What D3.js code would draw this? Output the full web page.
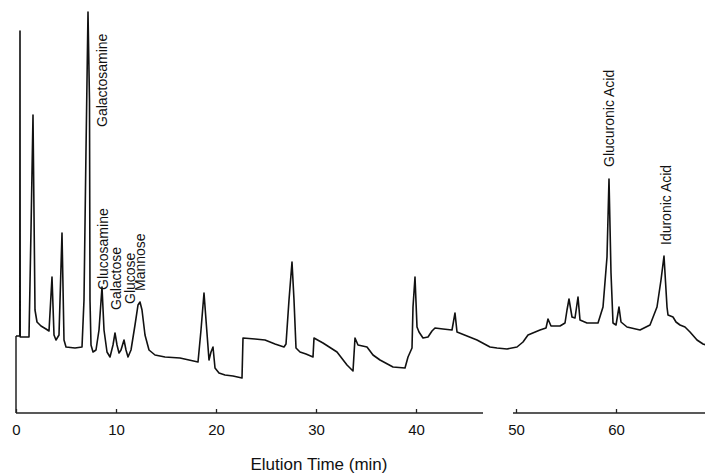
<!DOCTYPE html>
<html>
<head>
<meta charset="utf-8">
<script src="https://cdn.jsdelivr.net/npm/d3@7"></script>
<style>
  body { margin: 0; background: #fff; }
  svg { display: block; }
  text { font-family: "Liberation Sans", Arial, sans-serif; fill: #111; }
</style>
</head>
<body>
<div id="chart"></div>
<script>
// elution time (min) and detector response (arbitrary units)
var times = [0, 0.38, 0.4, 0.42, 1.3, 1.5, 1.7, 1.9, 2.1, 2.5, 3.0, 3.3, 3.6, 3.8, 4.0, 4.3, 4.6, 4.8, 5.0, 5.9, 6.6,
  6.8, 7.0, 7.2, 7.35, 7.4, 7.5, 7.7, 8.0, 8.3, 8.6, 8.8, 9.1, 9.4, 9.7, 9.9, 10.1, 10.3, 10.5, 10.8, 11.0,
  11.2, 11.5, 11.9, 12.2, 12.4, 12.6, 12.9, 13.3, 13.9, 14.9, 16.4, 18.2, 18.5, 18.8, 19.0, 19.3, 19.5, 19.7, 19.9, 20.3,
  20.9, 21.7, 22.6, 22.7, 23.9, 24.9, 25.9, 26.8, 27.0, 27.3, 27.6, 27.8, 28.0, 28.4, 29.0, 29.7, 29.8, 30.7, 32.1, 33.1,
  33.7, 33.9, 34.2, 35.1, 35.7, 36.4, 37.7, 38.9, 39.2, 39.6, 39.7, 39.9, 40.1, 40.3, 40.7, 41.2, 41.6, 41.9, 42.7, 43.6,
  43.9, 44.1, 45.1, 46.1, 47.4, 48.1, 49.1, 50.1, 50.7, 51.2, 52.4, 53.0, 53.2, 53.5, 54.4, 54.9, 55.1, 55.3, 55.6, 55.9,
  56.2, 56.4, 57.1, 58.2, 58.7, 59.1, 59.3, 59.5, 59.7, 60.0, 60.3, 60.5, 61.1, 62.4, 63.4, 64.1, 64.5, 64.8, 65.1, 65.2,
  65.7, 66.0, 66.4, 66.9, 67.4, 68.1, 68.7, 69.0];
var signal = [19.25, 19.25, 95.5, 19, 19, 45.75, 74.5, 25.75, 22.75, 21.75, 21, 20.5, 34, 19.5, 18.25, 19.5, 45, 18.25, 16.5, 16.25, 16.5,
  28.25, 65.75, 100.25, 78, 28.25, 17, 15.25, 15.75, 20.75, 31.5, 20.75, 15.25, 14, 17, 20, 17, 15, 15.75, 18.25, 15.75,
  14, 15.75, 22, 27, 27.75, 25.75, 19.5, 15.75, 14.5, 14, 13.75, 12.75, 20.75, 30, 23.25, 13.25, 15.25, 16.5, 11.25, 10,
  9.5, 9.25, 8.75, 18.75, 18.5, 18.25, 17.25, 16.5, 17.25, 28.25, 37.75, 28.25, 16.25, 15.25, 14.75, 14, 18.75, 17.5, 15.25, 12,
  10.5, 18.75, 17, 16.5, 14.5, 13.25, 11.5, 11.25, 14, 16.25, 26.5, 34, 21.5, 20.25, 18.75, 19, 20.5, 21.25, 21, 20.75,
  25, 20.25, 19.25, 18.25, 16.5, 16.25, 16, 16.5, 17.75, 19.5, 20.75, 21.25, 23.5, 21.75, 21.75, 22.5, 25.75, 28.5, 24, 23.75,
  29, 23.25, 22.5, 22.5, 26.5, 39, 58.5, 35, 22.5, 22, 26.5, 22.75, 21.5, 20.75, 22, 26.5, 33.25, 39.25, 26.5, 24.5,
  24, 22.75, 22, 21.5, 20.25, 18.25, 17.25, 17];

// peak annotations: name, label anchor time, label anchor response
var peakNames = ["Galactosamine", "Glucosamine", "Galactose", "Glucose", "Mannose", "Glucuronic Acid", "Iduronic Acid"];
var labelTimes = [9.1, 9.2, 10.5, 11.85, 12.9, 59.8, 65.5];
var labelLevels = [71.5, 30.75, 25.75, 27.25, 30.5, 61.5, 42];

var tickValues = [0, 10, 20, 30, 40, 50, 60];
var axisPieces = [[0, 46.7], [49.7, 69]];
var xTitle = "Elution Time (min)";

var width = 705, height = 473;

var svg = d3.select("#chart").append("svg")
    .attr("width", width)
    .attr("height", height);

/* Scale */
var xScale = d3.scaleLinear().domain([0, 69]).range([16, 706]);
var yScale = d3.scaleLinear().domain([0, 100]).range([413, 13]);

var data = times.map((t, i) => ({ t: t, v: signal[i] }));

/* x axis with break */
var xAxis = d3.axisBottom(xScale)
    .tickValues(tickValues)
    .tickSizeInner(-4)
    .tickSizeOuter(0)
    .tickPadding(11);

var gx = svg.append("g")
    .attr("class", "x axis")
    .attr("transform", `translate(0, ${yScale(0)})`)
    .call(xAxis);

gx.select(".domain").remove();
gx.selectAll(".tick line").attr("stroke", "#222").attr("stroke-width", 1.3);
gx.selectAll(".tick text")
    .style("font-size", "15px")
    .attr("fill", "#111");

svg.append("g").attr("class", "axis-line")
  .selectAll("line")
  .data(axisPieces).enter()
  .append("line")
    .attr("x1", d => xScale(d[0]))
    .attr("x2", d => xScale(d[1]))
    .attr("y1", yScale(0))
    .attr("y2", yScale(0))
    .attr("stroke", "#222")
    .attr("stroke-width", 1.5);

// left edge: axis runs up to the start of the trace
svg.append("line")
    .attr("x1", xScale(0))
    .attr("x2", xScale(0))
    .attr("y1", yScale(0))
    .attr("y2", yScale(signal[0]))
    .attr("stroke", "#222")
    .attr("stroke-width", 1.5);

svg.append("text")
    .attr("x", (xScale(0) + xScale(69)) / 2 - 42)
    .attr("y", 470)
    .attr("text-anchor", "middle")
    .style("font-size", "17px")
    .text(xTitle);

/* trace */
var line = d3.line()
    .x(d => xScale(d.t))
    .y(d => yScale(d.v));

svg.append("path")
    .datum(data)
    .attr("class", "trace")
    .attr("d", line)
    .style("fill", "none")
    .style("stroke", "#111")
    .style("stroke-width", 1.6)
    .style("stroke-linejoin", "round");

/* peak labels */
svg.append("g").attr("class", "labels")
  .selectAll("text")
  .data(peakNames).enter()
  .append("text")
    .attr("transform", (d, i) => `translate(${xScale(labelTimes[i])}, ${yScale(labelLevels[i])}) rotate(-90)`)
    .style("font-size", "14px")
    .text(d => d);
</script>
</body>
</html>
